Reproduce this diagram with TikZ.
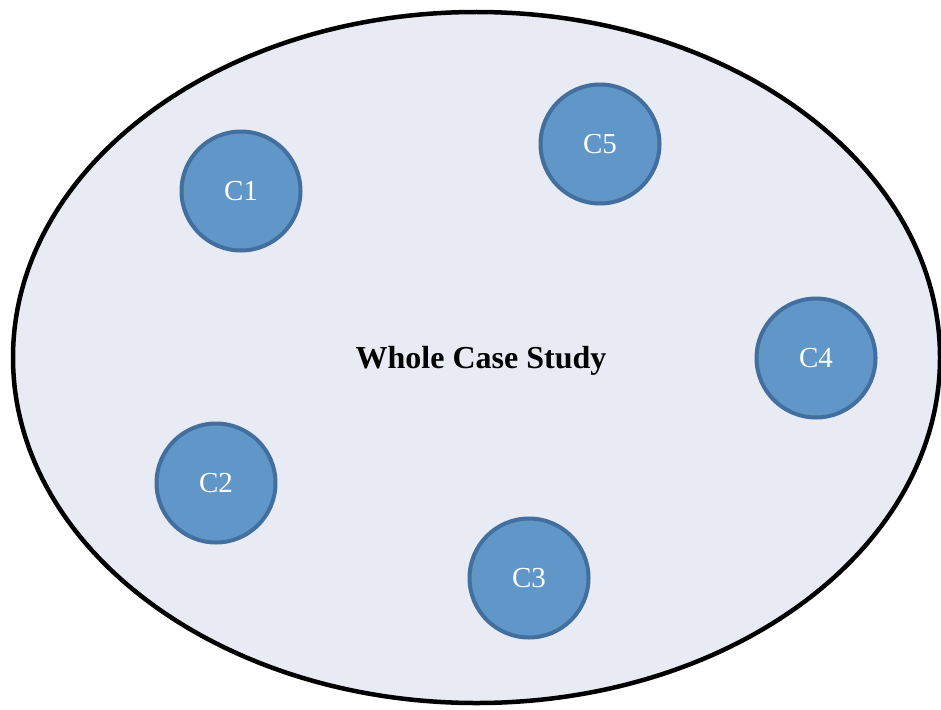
\documentclass[tikz,border=0pt]{standalone}
\usepackage{fontspec}
\setmainfont{Liberation Serif}
\definecolor{casebg}{RGB}{232,235,243}
\definecolor{cfill}{RGB}{97,150,201}
\definecolor{cborder}{RGB}{66,111,158}
\begin{document}
\begin{tikzpicture}[x=1pt,y=-1pt,
  component/.style={circle, fill=cfill, draw=cborder, line width=4pt,
    minimum size=119pt, inner sep=0pt, text=white,
    font=\fontsize{29}{32}\selectfont},
  outline/.style={line width=4.5pt, draw=black, fill=casebg}]
  \useasboundingbox (0,0) rectangle (941,709);
  % the enclosing case study
  \path[outline] (476.5,357.5) ellipse [x radius=463.5, y radius=345.5];
  \node[font=\bfseries\fontsize{32}{36}\selectfont] (title) at (481,361) {Whole Case Study};
  % the five components
  \node[component] (c1) at (241,191) {C1};
  \node[component] (c5) at (600,144) {C5};
  \node[component] (c4) at (816,358) {C4};
  \node[component] (c2) at (216,483) {C2};
  \node[component] (c3) at (529,578) {C3};
\end{tikzpicture}
\end{document}
